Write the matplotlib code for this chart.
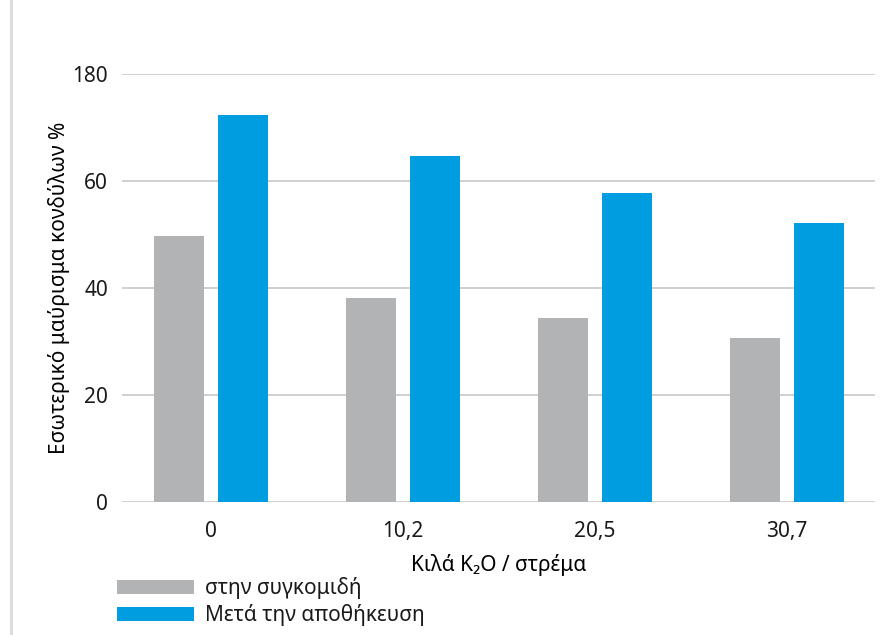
import matplotlib
matplotlib.use("Agg")
import matplotlib.pyplot as plt
from matplotlib.lines import Line2D
import numpy as np

# Data
categories = ["0", "10,2", "20,5", "30,7"]
harvest = [49.7, 38.1, 34.4, 30.7]
storage = [72.3, 64.7, 57.8, 52.1]
series_names = ["στην συγκομιδή", "Μετά την αποθήκευση"]
ytick_values = [0, 20, 40, 60, 80]
ytick_labels = ["0", "20", "40", "60", "180"]

FS = 15
plt.rcParams['font.family'] = ['Noto Sans', 'DejaVu Sans']
plt.rcParams['font.size'] = FS
plt.rcParams['text.color'] = '#1a1a1a'

fig = plt.figure(figsize=(8.94, 6.35), dpi=100)
ax = fig.add_axes([0.1365, 0.2094, 0.8422, 0.6741])

x = np.arange(len(categories))
w = 0.26
off = 0.167
ax.bar(x - off, harvest, w, color="#b2b3b5", label=series_names[0], zorder=3)
ax.bar(x + off, storage, w, color="#009ee0", label=series_names[1], zorder=3)

ax.set_xlim(-0.464, 3.458)
ax.set_ylim(0, 80)
ax.set_xticks(x)
ax.set_xticklabels(categories)
ax.set_yticks(ytick_values)
ax.set_yticklabels(ytick_labels)
ax.tick_params(axis='both', length=0, labelsize=FS, colors='#1a1a1a')
ax.tick_params(axis='x', pad=14)
ax.tick_params(axis='y', pad=10)
for s in ax.spines.values():
    s.set_visible(False)
ax.grid(axis='y', color='#c8c8c8', linewidth=1.2, zorder=0)
ax.set_axisbelow(True)

ax.set_xlabel("Κιλά K₂O / στρέμα", fontsize=FS, labelpad=8)
ax.set_ylabel("Εσωτερικό μαύρισμα κονδύλων %", fontsize=FS, labelpad=2)

fig.legend(loc='upper left', bbox_to_anchor=(117 / 894, 1 - 577 / 635),
           frameon=False, borderpad=0, borderaxespad=0,
           handlelength=3.7, handleheight=0.67, handletextpad=0.53,
           labelspacing=0.25, fontsize=FS)

# light border line on the left
fig.add_artist(Line2D([11 / 894, 11 / 894], [0, 1], color='#dcdcdc',
                      linewidth=2.2, transform=fig.transFigure))

fig.savefig("out.png", dpi=100)
